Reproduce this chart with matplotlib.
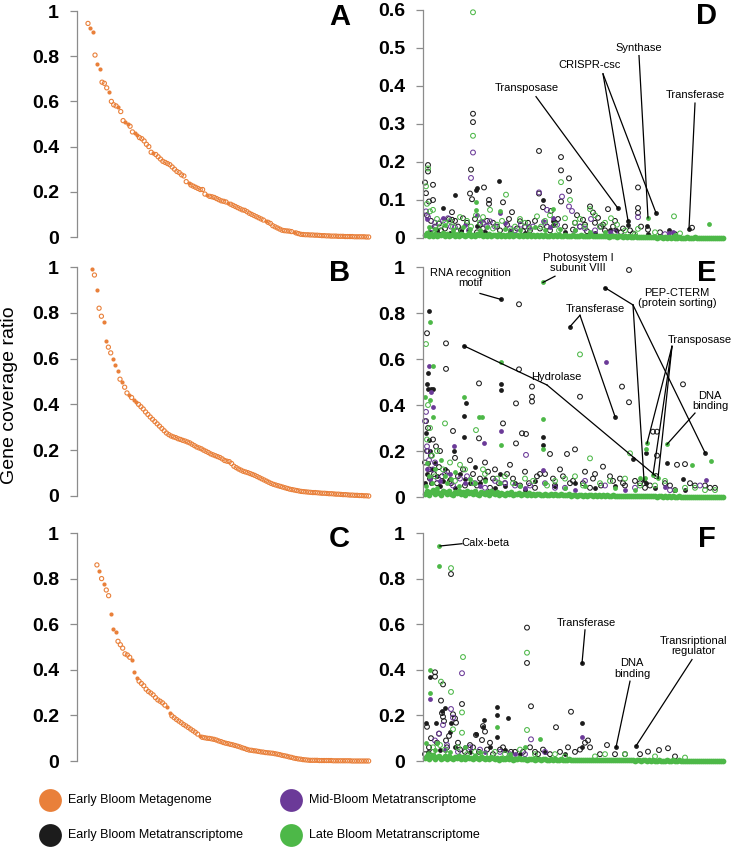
import matplotlib
matplotlib.use("Agg")
import matplotlib.pyplot as plt

ORANGE = "#E9803A"
BLACK = "#1C1C1C"
PURPLE = "#6B3A98"
GREEN = "#4DB848"
GRAY = "#8C8C8C"
SANS = ["Liberation Sans", "DejaVu Sans"]

plt.rcParams["font.family"] = SANS

# ---- left column: metagenome coverage, genes sorted by coverage ----
a_vals = [0.945, 0.925, 0.905, 0.805, 0.765, 0.745, 0.685, 0.68, 0.66, 0.64,
          0.60, 0.585, 0.58, 0.575, 0.555, 0.515, 0.51, 0.50, 0.49, 0.465,
          0.46, 0.45, 0.44, 0.435, 0.425, 0.41, 0.40, 0.375, 0.37, 0.365,
          0.355, 0.345, 0.335, 0.33, 0.325, 0.32, 0.31, 0.30, 0.29, 0.285,
          0.275, 0.27, 0.245, 0.24, 0.23, 0.225, 0.22, 0.215, 0.21, 0.21,
          0.19, 0.185, 0.18, 0.178, 0.175, 0.17, 0.165, 0.16, 0.158, 0.155,
          0.15, 0.145, 0.14, 0.135, 0.13, 0.125, 0.12, 0.118, 0.112, 0.105,
          0.10, 0.095, 0.09, 0.085, 0.08, 0.075, 0.07, 0.065, 0.06, 0.05,
          0.045, 0.04, 0.035, 0.03, 0.028, 0.027, 0.026, 0.024, 0.02, 0.018,
          0.015, 0.012, 0.011, 0.01, 0.01, 0.009, 0.009, 0.008, 0.008, 0.007,
          0.006, 0.006, 0.005, 0.005, 0.004, 0.004, 0.004, 0.003, 0.003, 0.003,
          0.002, 0.002, 0.002, 0.002, 0.001, 0.001, 0.001, 0.001, 0.001, 0.0, 0.0]
a_filled = [1, 2, 4, 5, 9, 13, 16, 17, 20, 21, 28, 43, 51, 60, 76, 88]

b_vals = [0.99, 0.965, 0.90, 0.82, 0.785, 0.76, 0.675, 0.65, 0.625, 0.60,
          0.57, 0.545, 0.51, 0.50, 0.475, 0.45, 0.44, 0.43, 0.42, 0.41,
          0.40, 0.39, 0.38, 0.367, 0.356, 0.345, 0.335, 0.325, 0.315, 0.305,
          0.295, 0.285, 0.275, 0.268, 0.262, 0.258, 0.255, 0.25, 0.247, 0.243,
          0.24, 0.236, 0.232, 0.226, 0.22, 0.214, 0.21, 0.206, 0.20, 0.195,
          0.19, 0.184, 0.18, 0.176, 0.172, 0.168, 0.162, 0.155, 0.152, 0.15,
          0.142, 0.13, 0.124, 0.118, 0.113, 0.108, 0.105, 0.102, 0.098, 0.094,
          0.09, 0.085, 0.08, 0.075, 0.07, 0.065, 0.06, 0.055, 0.051, 0.048,
          0.045, 0.042, 0.039, 0.036, 0.033, 0.03, 0.028, 0.026, 0.024, 0.022,
          0.02, 0.019, 0.018, 0.017, 0.016, 0.015, 0.015, 0.014, 0.013, 0.012,
          0.012, 0.011, 0.01, 0.01, 0.009, 0.008, 0.008, 0.007, 0.006, 0.006,
          0.005, 0.004, 0.004, 0.003, 0.003, 0.002, 0.002, 0.001, 0.001, 0.0]
b_filled = [0, 2, 5, 6, 9, 10, 11, 13, 16, 18, 19]

c_vals = [0.86, 0.835, 0.80, 0.775, 0.75, 0.725, 0.645, 0.58, 0.565, 0.525,
          0.51, 0.495, 0.47, 0.465, 0.455, 0.445, 0.39, 0.365, 0.35, 0.34,
          0.33, 0.315, 0.305, 0.298, 0.29, 0.278, 0.268, 0.262, 0.255, 0.245,
          0.235, 0.21, 0.198, 0.19, 0.182, 0.175, 0.168, 0.16, 0.154, 0.147,
          0.14, 0.133, 0.126, 0.118, 0.108, 0.104, 0.102, 0.10, 0.099, 0.097,
          0.095, 0.092, 0.088, 0.085, 0.081, 0.078, 0.076, 0.073, 0.071, 0.068,
          0.065, 0.062, 0.058, 0.055, 0.051, 0.048, 0.047, 0.045, 0.044, 0.042,
          0.04, 0.039, 0.037, 0.036, 0.035, 0.034, 0.032, 0.03, 0.028, 0.025,
          0.023, 0.021, 0.018, 0.016, 0.013, 0.011, 0.009, 0.008, 0.006, 0.005,
          0.004, 0.003, 0.003, 0.003, 0.003, 0.002, 0.002, 0.002, 0.002, 0.002,
          0.002, 0.001, 0.001, 0.001, 0.001, 0.001, 0.001, 0.001, 0.001, 0.0,
          0.0, 0.0, 0.0, 0.0, 0.0, 0.0, 0.0]
c_filled = [1, 3, 6, 7, 8, 15, 16, 17, 30, 31, 44]

# ---- right column: transcript coverage (gene rank, ratio) ----
d_black_open = [(0, .146), (1, .118), (3, .192), (3, .175), (8, .140), (4, .096), (8, .100),
                (2, .060), (6, .045), (10, .030), (14, .038), (20, .025), (24, .050), (27, .068),
                (27, .048), (33, .030), (38, .052), (42, .040), (45, .117), (46, .180), (47, .102),
                (48, .327), (48, .305), (50, .050), (55, .035), (59, .133), (62, .045), (64, .100),
                (64, .090), (68, .040), (72, .030), (78, .094), (82, .035), (87, .068), (92, .025),
                (95, .044), (100, .030), (105, .020), (110, .045), (114, .229), (114, .117),
                (118, .081), (122, .030), (126, .071), (130, .040), (136, .213), (136, .178),
                (136, .096), (140, .030), (144, .157), (144, .124), (150, .040), (155, .030),
                (158, .048), (160, .035), (165, .083), (168, .067), (170, .040), (173, .053),
                (176, .030), (180, .020), (183, .076), (188, .030), (196, .015), (205, .020),
                (213, .133), (213, .079), (213, .066), (216, .030), (223, .022), (235, .015),
                (250, .010), (267, .027), (16, .020), (30, .045), (36, .020), (52, .015),
                (58, .025), (75, .020), (84, .050), (98, .018), (103, .040), (115, .025),
                (125, .020), (133, .050), (148, .022), (152, .060), (162, .018), (178, .035),
                (190, .045), (198, .025), (208, .012)]
d_black_fill = [(18, .079), (30, .112), (44, .022), (51, .127), (52, .131), (52, .032), (74, .149),
                (118, .099), (128, .044), (128, .035), (191, .022), (193, .078), (203, .046),
                (203, .033), (222, .032), (223, .010), (231, .066), (244, .022), (264, .025),
                (5, .015), (12, .020), (25, .012), (36, .018), (60, .015), (85, .018), (100, .012),
                (140, .015), (170, .012), (185, .020)]
d_purple_open = [(1, .070), (3, .055), (10, .040), (18, .046), (23, .052), (30, .028), (46, .158),
                 (48, .225), (58, .040), (65, .044), (70, .030), (85, .025), (96, .035), (108, .030),
                 (122, .074), (114, .120), (120, .040), (132, .035), (137, .109), (144, .083),
                 (147, .071), (160, .025), (166, .050), (175, .030), (190, .015), (213, .055),
                 (240, .010), (7, .025), (26, .030), (44, .020), (62, .030), (90, .020),
                 (104, .028), (155, .030), (170, .020)]
d_purple_fill = [(2, .050), (18, .053), (40, .035), (52, .061), (56, .045), (75, .066), (80, .040),
                 (118, .045), (125, .030), (128, .053), (150, .020), (185, .015), (244, .013),
                 (248, .015)]
d_green_open = [(1, .136), (2, .090), (3, .183), (5, .070), (8, .074), (12, .050), (20, .040),
                (28, .030), (35, .055), (42, .045), (48, .594), (48, .269), (51, .060), (55, .040),
                (65, .074), (72, .035), (81, .114), (90, .030), (100, .040), (112, .057),
                (120, .045), (130, .035), (136, .147), (140, .052), (145, .100), (150, .040),
                (160, .030), (165, .076), (170, .060), (180, .040), (186, .052), (200, .020),
                (213, .024), (230, .015), (249, .057), (6, .020), (15, .030), (25, .045),
                (32, .020), (46, .030), (58, .055), (68, .025), (77, .045), (86, .020), (95, .050),
                (105, .025), (116, .030), (125, .060), (134, .020), (155, .050), (175, .030),
                (192, .035), (210, .010), (255, .012)]
d_green_fill = [(4, .030), (10, .025), (20, .035), (28, .020), (38, .030), (45, .025), (51, .094),
                (51, .074), (55, .020), (62, .030), (75, .070), (80, .025), (95, .020), (110, .030),
                (120, .020), (128, .076), (135, .025), (150, .020), (165, .015), (180, .015),
                (223, .053), (250, .008), (284, .038)]
d_base = [.008, .012, .005, .010, .006, .011, .004, .009, .007, .012,
          .006, .010, .005, .008, .011, .004, .009, .006, .010, .007,
          .005, .009, .012, .006, .008, .004, .010, .007, .011, .005,
          .008, .006, .010, .004, .009, .007, .005, .011, .006, .008,
          .004, .009, .006, .010, .005, .007, .008, .004, .009, .006,
          .007, .005, .010, .006, .008, .004, .009, .005, .007, .006,
          .008, .004, .006, .009, .005, .007, .004, .008, .006, .005,
          .007, .004, .006, .005, .008, .004, .006, .005, .007, .004,
          .005, .006, .004, .007, .005, .004, .006, .005, .004, .006,
          .004, .005, .003, .006, .004, .005, .003, .004, .005, .003,
          .004, .003, .004, .002, .003, .004, .002, .003, .002, .003,
          .002, .003, .002, .002, .003, .002, .001, .002, .002, .001,
          .002, .001, .002, .001, .002, .001, .001, .002, .001, .001,
          .001, .002, .001, .001, .001, .002, .001, .001, .001, .001,
          .001, .001, .001, .001, .001, .001, .001, .001, .001, .001]

e_black_open = [(2, .712), (21, .668), (21, .557), (94, .838), (94, .555), (204, .987), (107, .480),
                (107, .436), (107, .415), (54, .494), (91, .407), (155, .436), (197, .480),
                (204, .412), (258, .490), (78, .320), (91, .233), (97, .277), (101, .274),
                (28, .287), (54, .255), (228, .284), (232, .284), (232, .180), (252, .140),
                (260, .143), (125, .187), (142, .187), (150, .207), (178, .132), (231, .091),
                (1, .330), (3, .300), (8, .250), (15, .200), (30, .170), (45, .160), (60, .150),
                (70, .120), (85, .140), (100, .110), (115, .100), (135, .120), (160, .110),
                (170, .100), (185, .090), (195, .080), (210, .070), (240, .060), (270, .050),
                (285, .040), (5, .080), (12, .060), (25, .070), (40, .050), (55, .080), (65, .040),
                (80, .060), (95, .050), (110, .040), (130, .050), (145, .060), (165, .040),
                (200, .050), (220, .040), (250, .030), (0, .150), (2, .200), (4, .120), (6, .180),
                (9, .100), (11, .220), (14, .130), (17, .090), (22, .110), (26, .060), (33, .090),
                (38, .120), (48, .100), (52, .050), (63, .110), (68, .080), (74, .060), (82, .100),
                (88, .080), (104, .060), (112, .090), (120, .100), (128, .080), (138, .090),
                (148, .070), (158, .060), (168, .080), (176, .050), (188, .070), (198, .060),
                (215, .060), (225, .050), (245, .050), (265, .060), (280, .050), (290, .040)]
e_black_fill = [(76, .859), (4, .809), (180, .910), (145, .741), (39, .657), (3, .538), (2, .490),
                (3, .470), (6, .470), (8, .470), (76, .490), (76, .465), (39, .354), (41, .407),
                (190, .350), (29, .200), (39, .262), (118, .262), (118, .226), (221, .193),
                (208, .164), (280, .193), (242, .149), (258, .080), (221, .060), (219, .074),
                (1, .280), (4, .250), (5, .200), (10, .150), (20, .120), (35, .100), (50, .130),
                (60, .080), (75, .100), (90, .060), (110, .070), (130, .050), (150, .060),
                (170, .040), (190, .050), (230, .040), (260, .030), (2, .100), (6, .060),
                (15, .050), (30, .040), (45, .060), (70, .040), (100, .030), (0, .060), (3, .150),
                (7, .120), (12, .090), (18, .070), (25, .080), (40, .080), (55, .060), (80, .050)]
e_purple_open = [(0, .330), (1, .370), (3, .200), (101, .183), (10, .150), (20, .100), (35, .080),
                 (50, .060), (70, .070), (90, .050), (120, .060), (140, .040), (160, .070),
                 (180, .050), (210, .040), (245, .030), (275, .050), (2, .220), (4, .160),
                 (8, .120), (13, .080), (28, .050), (42, .090), (60, .040), (80, .060), (105, .050),
                 (130, .040)]
e_purple_fill = [(4, .570), (181, .585), (6, .458), (8, .393), (29, .220), (59, .236), (76, .287),
                 (118, .117), (281, .074), (240, .042), (2, .120), (5, .080), (15, .070),
                 (25, .100), (40, .060), (55, .050), (100, .040), (150, .030), (200, .030)]
e_green_open = [(1, .665), (155, .620), (20, .320), (51, .291), (165, .168), (3, .400), (12, .200),
                (25, .150), (40, .120), (60, .100), (80, .090), (100, .080), (130, .070),
                (150, .090), (175, .060), (200, .080), (205, .190), (230, .050), (260, .040),
                (280, .030), (2, .250), (5, .300), (7, .180), (10, .090), (18, .120), (30, .070),
                (35, .140), (48, .060), (58, .120), (72, .080), (88, .060), (108, .070),
                (122, .050), (140, .080), (158, .050), (185, .070), (215, .050), (240, .070),
                (270, .040), (290, .030)]
e_green_fill = [(118, .933), (5, .762), (76, .588), (118, .338), (118, .207), (8, .570), (0, .436),
                (5, .420), (8, .350), (39, .433), (54, .350), (57, .350), (76, .226), (222, .233),
                (221, .207), (242, .229), (267, .139), (286, .157), (215, .084), (220, .084),
                (228, .096), (233, .081), (2, .150), (10, .120), (20, .090), (30, .110), (45, .080),
                (60, .070), (75, .060), (95, .050), (120, .060), (140, .040), (160, .050),
                (190, .040), (210, .030), (250, .030), (1, .050), (4, .090), (7, .060), (12, .040),
                (16, .160), (22, .060), (26, .080), (34, .050), (50, .060)]
e_base = [.015, .025, .010, .020, .030, .012, .022, .018, .008, .025,
          .020, .012, .028, .015, .010, .022, .018, .026, .012, .020,
          .010, .024, .016, .020, .012, .028, .015, .010, .022, .018,
          .014, .020, .010, .025, .016, .012, .020, .008, .018, .014,
          .010, .018, .012, .020, .008, .015, .012, .018, .010, .014,
          .012, .008, .016, .010, .014, .008, .012, .015, .010, .008,
          .012, .010, .008, .014, .010, .012, .008, .010, .012, .008,
          .010, .008, .012, .006, .010, .008, .006, .010, .008, .006,
          .008, .006, .010, .008, .005, .008, .006, .008, .005, .007,
          .006, .008, .005, .006, .008, .005, .006, .004, .006, .005,
          .005, .004, .006, .004, .005, .003, .005, .004, .003, .005,
          .004, .003, .004, .003, .004, .003, .002, .004, .003, .002,
          .003, .002, .003, .002, .003, .002, .002, .003, .002, .002,
          .002, .002, .001, .002, .002, .001, .002, .001, .002, .001,
          .001, .002, .001, .001, .002, .001, .001, .001, .001, .001]

f_black_open = [(26, .820), (10, .389), (10, .370), (18, .336), (16, .265), (37, .250), (17, .210),
                (18, .194), (19, .175), (28, .205), (30, .187), (31, .168), (58, .153), (60, .129),
                (51, .114), (57, .092), (65, .080), (102, .585), (102, .430), (106, .240),
                (131, .148), (146, .216), (182, .070), (234, .048), (243, .056), (223, .041),
                (2, .150), (6, .100), (12, .080), (22, .060), (35, .050), (45, .070), (75, .050),
                (90, .040), (110, .040), (125, .030), (150, .040), (160, .080), (165, .060),
                (200, .030), (0, .030), (4, .060), (8, .040), (14, .120), (21, .090), (24, .110),
                (33, .080), (40, .040), (48, .060), (54, .040), (62, .050), (68, .030), (78, .060),
                (86, .040), (98, .040), (105, .060), (113, .030), (118, .050), (135, .040),
                (143, .060), (155, .050), (163, .090), (175, .030), (190, .030), (215, .030),
                (250, .020)]
f_black_fill = [(5, .370), (1, .165), (11, .165), (20, .231), (17, .220), (26, .165), (25, .129),
                (59, .179), (72, .238), (72, .200), (83, .190), (58, .150), (51, .120), (72, .107),
                (157, .428), (157, .165), (157, .063), (191, .060), (211, .066), (3, .040),
                (15, .050), (30, .060), (45, .040), (65, .060), (80, .050), (95, .030), (120, .040),
                (140, .030)]
f_purple_open = [(37, .385), (26, .228), (18, .158), (28, .190), (106, .095), (10, .090), (45, .060),
                 (75, .040), (120, .040), (14, .120), (22, .070), (33, .040), (55, .050), (85, .030),
                 (100, .030)]
f_purple_fill = [(5, .272), (157, .107), (20, .050), (40, .060), (60, .040), (90, .030)]
f_green_open = [(26, .846), (16, .348), (38, .456), (26, .303), (37, .213), (28, .139), (37, .124),
                (102, .475), (102, .136), (8, .060), (20, .050), (50, .040), (70, .040), (95, .050),
                (130, .030), (170, .020), (200, .030), (230, .020), (4, .030), (15, .070),
                (23, .030), (33, .060), (42, .030), (60, .030), (80, .030), (110, .030),
                (140, .020), (180, .030), (260, .015)]
f_green_fill = [(14, .943), (14, .855), (5, .399), (5, .297), (72, .148), (1, .080), (12, .080),
                (115, .097), (3, .030), (10, .050), (25, .040), (40, .060), (55, .040), (85, .030),
                (100, .060)]
f_base = [.012, .020, .008, .018, .025, .010, .016, .022, .008, .015,
          .020, .010, .024, .012, .008, .018, .014, .020, .010, .016,
          .008, .018, .012, .015, .010, .020, .012, .008, .016, .014,
          .010, .015, .008, .018, .012, .010, .014, .006, .012, .010,
          .008, .012, .010, .014, .006, .010, .008, .012, .008, .010,
          .008, .006, .010, .008, .010, .006, .008, .010, .006, .008,
          .008, .006, .005, .008, .006, .008, .005, .006, .008, .005,
          .006, .005, .007, .004, .006, .005, .004, .006, .005, .004,
          .005, .004, .006, .005, .003, .005, .004, .005, .003, .004,
          .004, .005, .003, .004, .005, .003, .004, .003, .004, .003,
          .003, .004, .003, .003, .004, .002, .003, .003, .002, .003,
          .003, .002, .003, .002, .003, .002, .002, .003, .002, .002,
          .002, .003, .002, .002, .003, .002, .002, .003, .002, .002,
          .002, .001, .002, .002, .001, .002, .001, .002, .001, .002,
          .001, .002, .001, .001, .002, .001, .001, .001, .001, .001]

# annotations: label, text centre, line start, gene points it points at
d_notes = [("Transposase", (102, .395), (111, .372), [(193, .078)]),
           ("CRISPR-csc", (165, .455), (178, .432), [(203, .046), (231, .066)]),
           ("Synthase", (214, .500), (214, .480), [(223, .053)]),
           ("Transferase", (270, .376), (270, .355), [(264, .025)])]
e_notes = [("RNA recognition\nmotif", (45, .952), (55, .885), [(76, .859)]),
           ("Photosystem I\nsubunit VIII", (153, 1.017), (130, .960), [(118, .933)]),
           ("Transferase", (170, .817), (155, .790), [(145, .741), (190, .350)]),
           ("PEP-CTERM\n(protein sorting)", (252, .865), (208, .835),
            [(180, .910), (219, .074), (280, .193)]),
           ("Transposase", (275, .683), (247, .655), [(222, .233), (228, .096), (233, .081)]),
           ("DNA\nbinding", (285, .417), (270, .365), [(242, .229)]),
           ("Hydrolase", (131, .520), (122, .487), [(39, .657), (231, .091)])]
f_notes = [("Calx-beta", (60, .955), (37, .953), [(15, .943)]),
           ("Transferase", (161, .605), (160, .575), [(157, .428)]),
           ("DNA\nbinding", (207, .406), (205, .350), [(191, .060)]),
           ("Transriptional\nregulator", (268, .504), (267, .445), [(211, .066)])]

left_ticks = [0, 0.2, 0.4, 0.6, 0.8, 1]
left_labels = ["0", "0.2", "0.4", "0.6", "0.8", "1"]
d_ticks = [0, 0.1, 0.2, 0.3, 0.4, 0.5, 0.6]
d_labels = ["0", "0.1", "0.2", "0.3", "0.4", "0.5", "0.6"]

legend_labels = ["Early Bloom Metagenome", "Early Bloom Metatranscriptome",
                 "Mid-Bloom Metatranscriptome", "Late Bloom Metatranscriptome"]
legend_colors = [ORANGE, BLACK, PURPLE, GREEN]

W, H = 732, 850
fig = plt.figure(figsize=(W / 100, H / 100), dpi=100)


def box(x0, y_top, x1, y_bot):
    # pixel box -> figure fraction
    return [x0 / W, 1 - y_bot / H, (x1 - x0) / W, (y_bot - y_top) / H]


def style(ax, ticks, labels):
    for s in ["top", "right", "bottom"]:
        ax.spines[s].set_visible(False)
    ax.spines["left"].set_color(GRAY)
    ax.spines["left"].set_linewidth(0.9)
    ax.set_xticks([])
    ax.set_ylim(ticks[0], ticks[-1])
    ax.set_yticks(ticks)
    ax.set_yticklabels(labels, fontsize=14, fontweight="bold")
    ax.tick_params(axis="y", length=5, width=0.9, color=GRAY, pad=8)
    ax.patch.set_visible(False)


def pts(ax, pairs, color, filled, s=12):
    x = [p[0] for p in pairs]
    y = [p[1] for p in pairs]
    if filled:
        ax.scatter(x, y, s=s, color=color, linewidths=0, clip_on=False)
    else:
        ax.scatter(x, y, s=s, facecolors="none", edgecolors=color, linewidths=0.75, clip_on=False)


def notes(ax, items):
    for label, txt, start, targets in items:
        ax.text(txt[0], txt[1], label, ha="center", va="center", fontsize=8,
                linespacing=1.1, clip_on=False)
        for t in targets:
            ax.plot([start[0], t[0]], [start[1], t[1]], color="black", lw=0.9,
                    clip_on=False, zorder=5)


left_rows = [(a_vals, a_filled, 11, 237, -4.7, "A"),
             (b_vals, b_filled, 267, 496, -6.5, "B"),
             (c_vals, c_filled, 533, 761, -8.5, "C")]
for vals, filled, top, bot, x0, letter in left_rows:
    ax = fig.add_axes(box(77, top, 378, bot))
    style(ax, left_ticks, left_labels)
    n = len(vals)
    xs = list(range(n))
    ax.scatter([xs[i] for i in range(n) if i not in filled],
               [vals[i] for i in range(n) if i not in filled],
               s=9, facecolors="none", edgecolors=ORANGE, linewidths=0.8, clip_on=False)
    ax.scatter([xs[i] for i in filled], [vals[i] for i in filled],
               s=9, color=ORANGE, linewidths=0, clip_on=False)
    ax.set_xlim(x0, n + 3)
    ax.text(0.872, 0.975, letter, transform=ax.transAxes, ha="center", va="center",
            fontsize=21, fontweight="bold")

right_rows = [(d_black_open, d_black_fill, d_purple_open, d_purple_fill, d_green_open,
               d_green_fill, d_base, d_notes, 10, 238, d_ticks, d_labels, "D"),
              (e_black_open, e_black_fill, e_purple_open, e_purple_fill, e_green_open,
               e_green_fill, e_base, e_notes, 267, 497, left_ticks, left_labels, "E"),
              (f_black_open, f_black_fill, f_purple_open, f_purple_fill, f_green_open,
               f_green_fill, f_base, f_notes, 533, 761, left_ticks, left_labels, "F")]
for bo, bf, po, pf, go, gf, base, nt, top, bot, ticks, labels, letter in right_rows:
    ax = fig.add_axes(box(423, top, 725, bot))
    style(ax, ticks, labels)
    ax.set_xlim(-2, 300)
    pts(ax, bo, BLACK, False)
    pts(ax, bf, BLACK, True)
    pts(ax, po, PURPLE, False)
    pts(ax, pf, PURPLE, True)
    pts(ax, go, GREEN, False)
    pts(ax, gf, GREEN, True)
    ax.scatter([2 * i for i in range(len(base))], base, s=17, color=GREEN,
               linewidths=0, clip_on=False)
    notes(ax, nt)
    ax.text(0.94, 0.975, letter, transform=ax.transAxes, ha="center", va="center",
            fontsize=21, fontweight="bold")

fig.text(0.013, 1 - 395 / H, "Gene coverage ratio", rotation=90, ha="center", va="center",
         fontsize=14)

# legend laid out as in the figure: two columns, two rows
leg = fig.add_axes([0, 0, 1, 1], zorder=-1)
leg.set_axis_off()
leg.set_xlim(0, W)
leg.set_ylim(H, 0)
spots = [(50, 800), (50, 835), (291, 800), (291, 835)]
for (lx, ly), lab, col in zip(spots, legend_labels, legend_colors):
    leg.scatter([lx], [ly], s=270, color=col, linewidths=0)
    leg.text(lx + 18, ly, lab, ha="left", va="center", fontsize=9)

fig.savefig("out.png", dpi=100)
